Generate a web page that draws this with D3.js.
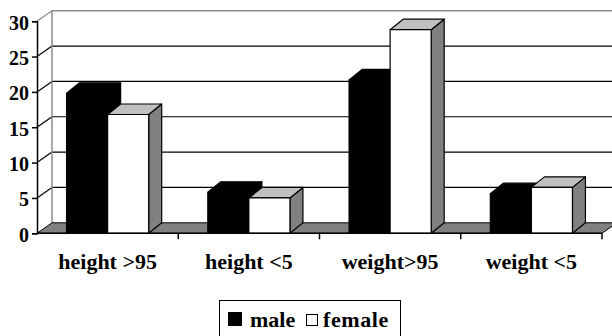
<!DOCTYPE html>
<html>
<head>
<meta charset="utf-8">
<script src="https://cdn.jsdelivr.net/npm/d3@7"></script>
<style>
  html, body { margin: 0; padding: 0; background: #fff; }
  svg { display: block; }
</style>
</head>
<body>
<script>
// Percentile groups and the share of boys / girls in each
const categories = ["height >95", "height <5", "weight>95", "weight <5"];
const seriesNames = ["male", "female"];
const maleValues = [19.8, 5.8, 21.7, 5.6];
const femaleValues = [16.8, 5.0, 28.8, 6.5];
const yTicks = [0, 5, 10, 15, 20, 25, 30];

const FONT = "'Liberation Serif', 'DejaVu Serif', 'Times New Roman', Times, serif";

const W = 612, H = 336;
const plotLeft = 37, plotRight = 602, plotBottom = 233.3, plotTop = 21.2;
// 3-D depth offsets for the walls and the columns
const wall = { dx: 15, dy: -10.5 };
const box = { dx: 13, dy: -10.5 };

const svg = d3.select("body").append("svg").attr("width", W).attr("height", H)
  .attr("font-family", FONT).attr("font-weight", "bold");

const y = d3.scaleLinear().domain([0, 30]).range([plotBottom, plotTop]);
const x0 = d3.scaleBand().domain(categories).range([plotLeft, plotRight]).padding(0);
const x1 = d3.scaleBand().domain(seriesNames).range([0, x0.bandwidth()])
  .paddingInner(0).paddingOuter(0.72);

const series = seriesNames.map((name, i) => ({
  name,
  values: i === 0 ? maleValues : femaleValues
}));

// Back wall
svg.append("rect")
  .attr("x", plotLeft + wall.dx).attr("y", y(30) + wall.dy)
  .attr("width", W).attr("height", y(0) - y(30))
  .attr("fill", "#fff");

// Side wall
svg.append("path")
  .attr("d", `M${plotLeft},${y(30)} L${plotLeft + wall.dx},${y(30) + wall.dy} L${plotLeft + wall.dx},${y(0) + wall.dy} L${plotLeft},${y(0)} Z`)
  .attr("fill", "#fff");

// Gridlines along the back wall and across the side wall
const grid = svg.append("g");
yTicks.filter(v => v > 0).forEach(v => {
  const col = v === 30 ? "#8c8c8c" : "#000";
  grid.append("line")
    .attr("x1", plotLeft + wall.dx).attr("x2", W + 5)
    .attr("y1", y(v) + wall.dy).attr("y2", y(v) + wall.dy)
    .attr("stroke", col).attr("stroke-width", v === 30 ? 1.5 : 1.2);
  grid.append("line")
    .attr("x1", plotLeft).attr("x2", plotLeft + wall.dx)
    .attr("y1", y(v)).attr("y2", y(v) + wall.dy)
    .attr("stroke", col).attr("stroke-width", 1.2);
});
// back corner of the walls
svg.append("line")
  .attr("x1", plotLeft + wall.dx).attr("x2", plotLeft + wall.dx)
  .attr("y1", y(30) + wall.dy).attr("y2", y(0) + wall.dy)
  .attr("stroke", "#8c8c8c").attr("stroke-width", 1.5);

// Floor
svg.append("path")
  .attr("d", `M${plotLeft},${y(0)} L${plotLeft + wall.dx},${y(0) + wall.dy} L${plotRight + wall.dx},${y(0) + wall.dy} L${plotRight},${y(0)} Z`)
  .attr("fill", "#808080").attr("stroke", "#000").attr("stroke-width", 1);

// Columns
const faces = {
  male: { front: "#000", top: "#000", side: "#000" },
  female: { front: "#fff", top: "#c0c0c0", side: "#808080" }
};
const bars = svg.append("g");
categories.forEach((cat, ci) => {
  series.forEach(s => {
    const v = s.values[ci];
    const xa = x0(cat) + x1(s.name);
    const xb = xa + x1.bandwidth();
    const yt = y(v), yb = y(0);
    const f = faces[s.name];
    const g = bars.append("g").attr("stroke", "#000").attr("stroke-width", 1.2)
      .attr("stroke-linejoin", "round");
    g.append("path")
      .attr("d", `M${xb},${yt} L${xb + box.dx},${yt + box.dy} L${xb + box.dx},${yb + box.dy} L${xb},${yb} Z`)
      .attr("fill", f.side);
    g.append("path")
      .attr("d", `M${xa},${yt} L${xa + box.dx},${yt + box.dy} L${xb + box.dx},${yt + box.dy} L${xb},${yt} Z`)
      .attr("fill", f.top);
    g.append("rect")
      .attr("x", xa).attr("y", yt).attr("width", xb - xa).attr("height", yb - yt)
      .attr("fill", f.front);
  });
});

// Value axis
const yAxis = svg.append("g").attr("transform", `translate(${plotLeft},0)`)
  .call(d3.axisLeft(y).tickValues(yTicks).tickSize(5).tickPadding(3).tickFormat(d3.format("d")))
  .attr("font-family", FONT).attr("font-size", 20).attr("font-weight", "bold");
yAxis.select(".domain").attr("stroke", "#000").attr("stroke-width", 1.5);
yAxis.selectAll(".tick line").attr("stroke", "#000").attr("stroke-width", 1.5);
yAxis.selectAll(".tick text").attr("dy", "0.4em").attr("fill", "#000");

// Category axis: ticks on band boundaries, labels centred in each band
const xAxis = svg.append("g");
xAxis.append("line")
  .attr("x1", plotLeft).attr("x2", plotRight).attr("y1", y(0)).attr("y2", y(0))
  .attr("stroke", "#000").attr("stroke-width", 1.5);
categories.forEach(c => {
  const bx = x0(c) + x0.bandwidth();
  xAxis.append("line")
    .attr("x1", bx).attr("x2", bx).attr("y1", y(0)).attr("y2", y(0) + 6)
    .attr("stroke", "#000").attr("stroke-width", 1.5);
  xAxis.append("text")
    .attr("x", x0(c) + x0.bandwidth() / 2).attr("y", 269.3)
    .attr("text-anchor", "middle")
    .attr("font-size", 22).attr("fill", "#000")
    .text(c);
});

// Legend
const legend = svg.append("g");
legend.append("rect")
  .attr("x", 219.5).attr("y", 300.5).attr("width", 181).attr("height", 45)
  .attr("fill", "#fff").attr("stroke", "#000").attr("stroke-width", 1);
legend.append("rect").attr("x", 228).attr("y", 312).attr("width", 14).attr("height", 14)
  .attr("fill", "#000");
legend.append("text").attr("x", 250).attr("y", 327.3).attr("font-size", 22).text(seriesNames[0]);
legend.append("rect").attr("x", 306.5).attr("y", 314.5).attr("width", 11).attr("height", 11)
  .attr("fill", "#fff").attr("stroke", "#000").attr("stroke-width", 1);
legend.append("text").attr("x", 323).attr("y", 327.3).attr("font-size", 22)
  .attr("letter-spacing", "0.6px").text(seriesNames[1]);
</script>
</body>
</html>
